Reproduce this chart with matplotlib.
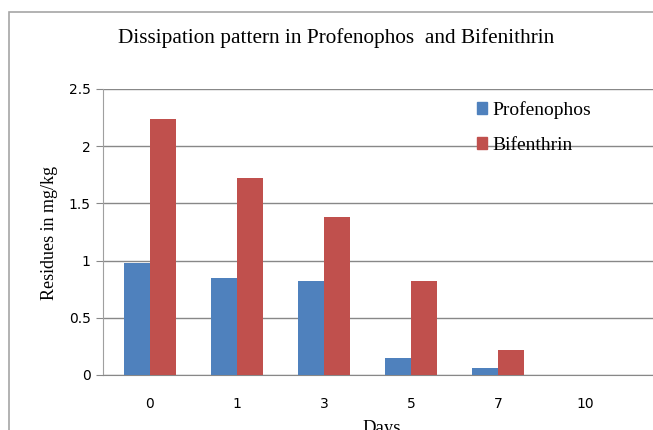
import matplotlib.pyplot as plt
from matplotlib.patches import Rectangle, Patch
import numpy as np

days = ["0", "1", "3", "5", "7", "10"]
profenophos = [0.98, 0.85, 0.82, 0.15, 0.06, 0.0]
bifenthrin = [2.24, 1.72, 1.38, 0.82, 0.22, 0.0]
y_ticks = [0, 0.5, 1, 1.5, 2, 2.5]
y_tick_labels = ["0", "0.5", "1", "1.5", "2", "2.5"]

W, H = 653, 430
fig = plt.figure(figsize=(W / 100, H / 100), dpi=100)

# outer chart border (cut at right and bottom)
fig.patches.append(Rectangle((9 / W, -0.1), 1.2, 1 - 12 / H + 0.1,
                             transform=fig.transFigure, fill=False,
                             edgecolor="#a6a6a6", linewidth=1.2))

ax = fig.add_axes([103 / W, 1 - 375 / H, 1 - 103 / W, (375 - 89) / H])
x = np.arange(len(days))
w = 0.3
ax.bar(x - w / 2, profenophos, w, color="#4F81BD", zorder=3)
ax.bar(x + w / 2, bifenthrin, w, color="#C0504D", zorder=3)

ax.set_xlim(-0.54, 5.78)
ax.set_ylim(0, 2.5)
ax.set_yticks(y_ticks)
ax.set_yticklabels(y_tick_labels, fontsize=10, family="DejaVu Sans")
ax.set_xticks(x)
ax.set_xticklabels(days, fontsize=10, family="DejaVu Sans")
ax.tick_params(axis="x", length=0, pad=16)
ax.tick_params(axis="y", length=5, color="#888888", pad=4)
ax.grid(axis="y", color="#888888", linewidth=1, zorder=0)
for side in ["top", "right"]:
    ax.spines[side].set_visible(False)
ax.spines["left"].set_color("#a0a0a0")
ax.spines["bottom"].set_color("#888888")
ax.patch.set_alpha(0)

fig.text(336 / W, 1 - 38 / H, "Dissipation pattern in Profenophos  and Bifenithrin",
         ha="center", va="center", family="Liberation Serif", fontsize=15.3)
fig.text(50 / W, 1 - 233 / H, "Residues in mg/kg", rotation=90,
         ha="center", va="center", family="Liberation Serif", fontsize=13)
# the axis title sits partly below the picture edge, as in the original
fig.text(382 / W, 1 - 420 / H, "Days", ha="center", va="top",
         family="Liberation Serif", fontsize=13.5)

handles = [Patch(color="#4F81BD"), Patch(color="#C0504D")]
fig.legend(handles, ["Profenophos", "Bifenthrin"], loc="upper left",
           bbox_to_anchor=(467 / W, 1 - 91 / H), frameon=False,
           prop={"family": "Liberation Serif", "size": 14},
           handlelength=0.55, handleheight=0.55, handletextpad=0.25,
           labelspacing=0.95, borderpad=0)

fig.savefig("out.png", dpi=100)
